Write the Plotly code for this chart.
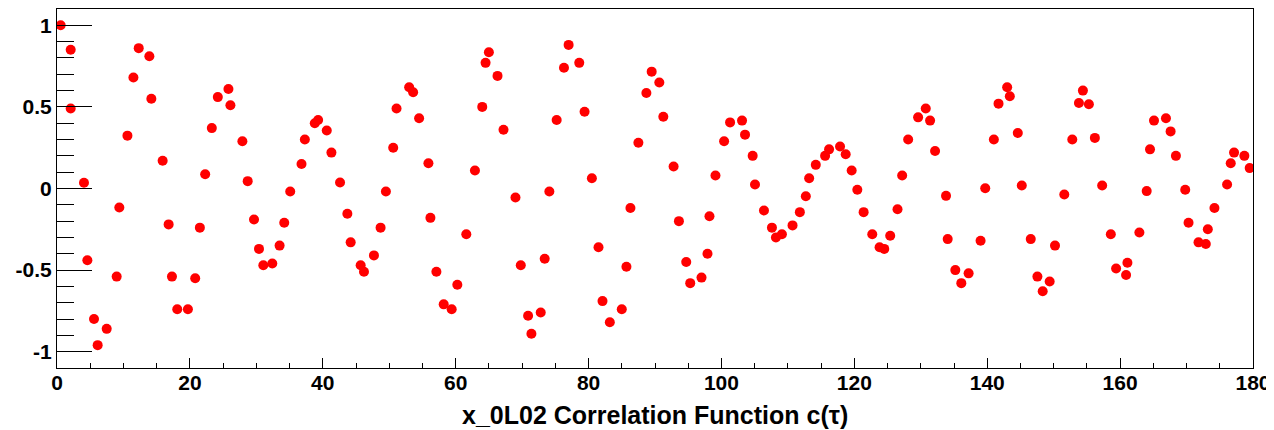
import plotly.graph_objects as go

tau = [0.55, 2.06, 2.06, 4.06, 4.57, 5.57, 6.12, 7.48, 8.98, 9.38,
       10.6, 11.5, 12.3, 13.9, 14.2, 15.9, 16.8, 17.3, 18.1, 19.7,
       20.8, 21.5, 22.3, 23.3, 24.2, 25.8, 26.1, 27.9, 28.7, 29.65,
       30.4, 31.05, 32.4, 33.5, 34.2, 35.1, 36.8, 37.3, 38.8, 39.3,
       40.6, 41.3, 42.6, 43.7, 44.2, 45.7, 46.2, 47.7, 48.7, 49.5,
       50.6, 51.1, 53.0, 53.6, 54.5, 55.9, 56.2, 57.1, 58.2, 59.4,
       60.25, 61.6, 62.9, 64.0, 64.5, 65.0, 66.3, 67.2, 69.0, 69.8,
       70.9, 71.4, 72.8, 73.4, 74.1, 75.2, 76.3, 77.0, 78.6, 79.4,
       80.5, 81.5, 82.1, 83.2, 85.0, 85.7, 86.3, 87.5, 88.7, 89.5,
       90.65, 91.25, 92.8, 93.6, 94.7, 95.3, 97.0, 97.9, 98.2, 99.1,
       100.4, 101.3, 103.1, 103.55, 104.7, 105.05, 106.4, 107.6, 108.2, 109.1,
       110.7, 111.8, 112.7, 113.2, 114.2, 115.6, 116.2, 117.85, 118.7, 119.6,
       120.45, 121.4, 122.7, 123.8, 124.5, 125.4, 126.5, 127.2, 128.1, 129.6,
       130.75, 131.4, 132.15, 133.8, 134.05, 135.2, 136.1, 137.2, 139.0, 139.7,
       141.0, 141.7, 143.0, 143.4, 144.6, 145.2, 146.55, 147.55, 148.35, 149.4,
       150.2, 151.6, 152.8, 153.8, 154.4, 155.3, 156.2, 157.3, 158.6, 159.4,
       160.9, 161.1, 162.9, 164.0, 164.5, 165.1, 166.9, 167.6, 168.4, 169.8,
       170.3, 171.8, 172.9, 173.2, 174.2, 176.1, 176.65, 177.15, 178.7, 179.5]

corr = [1.00, 0.85, 0.49, 0.035, -0.44, -0.80, -0.96, -0.86, -0.54, -0.116,
        0.324, 0.68, 0.86, 0.81, 0.55, 0.17, -0.22, -0.54, -0.74, -0.74,
        -0.55, -0.24, 0.087, 0.37, 0.56, 0.61, 0.51, 0.29, 0.045, -0.19,
        -0.37, -0.47, -0.46, -0.35, -0.21, -0.018, 0.15, 0.30, 0.40, 0.42,
        0.355, 0.22, 0.037, -0.155, -0.33, -0.47, -0.51, -0.41, -0.24, -0.018,
        0.25, 0.49, 0.62, 0.59, 0.43, 0.155, -0.18, -0.51, -0.71, -0.74,
        -0.59, -0.28, 0.11, 0.50, 0.77, 0.835, 0.69, 0.36, -0.055, -0.47,
        -0.78, -0.89, -0.76, -0.43, -0.018, 0.42, 0.74, 0.88, 0.77, 0.47,
        0.063, -0.36, -0.69, -0.82, -0.74, -0.48, -0.12, 0.28, 0.585, 0.716,
        0.65, 0.44, 0.135, -0.20, -0.45, -0.58, -0.546, -0.40, -0.17, 0.08,
        0.29, 0.405, 0.416, 0.33, 0.20, 0.024, -0.135, -0.24, -0.30, -0.28,
        -0.226, -0.145, -0.047, 0.063, 0.145, 0.20, 0.24, 0.257, 0.21, 0.11,
        -0.008, -0.145, -0.28, -0.36, -0.37, -0.29, -0.127, 0.08, 0.30, 0.436,
        0.49, 0.416, 0.23, -0.045, -0.31, -0.50, -0.58, -0.52, -0.32, 0.002,
        0.30, 0.52, 0.62, 0.565, 0.34, 0.018, -0.31, -0.54, -0.63, -0.57,
        -0.35, -0.037, 0.30, 0.524, 0.60, 0.516, 0.31, 0.018, -0.28, -0.49,
        -0.53, -0.455, -0.27, -0.016, 0.24, 0.416, 0.43, 0.35, 0.20, -0.008,
        -0.21, -0.33, -0.34, -0.25, -0.12, 0.024, 0.155, 0.22, 0.20, 0.125]

x_title = "x_0L02 Correlation Function c(\u03c4)"
x_ticks = [0, 20, 40, 60, 80, 100, 120, 140, 160, 180]
y_ticks = [-1, -0.5, 0, 0.5, 1]
y_ticklabels = ["-1", "-0.5", "0", "0.5", "1"]

FONT = "Liberation Sans, Arial, Helvetica, sans-serif"

fig = go.Figure()
fig.add_trace(go.Scatter(
    x=tau, y=corr, mode="markers",
    marker=dict(color="#ff0000", size=10, symbol="circle", line=dict(width=0)),
    showlegend=False, hoverinfo="x+y",
))

# page body has an 8px default margin, so the figure is sized to fit the window
fig.update_layout(
    width=1266, height=422,
    margin=dict(l=49, r=21, t=1, b=62),
    paper_bgcolor="white", plot_bgcolor="white",
    font=dict(family=FONT, color="black"),
)

fig.update_xaxes(
    range=[0, 180], showgrid=False, zeroline=False, automargin=False,
    showline=True, mirror=True, linecolor="black", linewidth=1,
    ticks="inside", ticklen=10, tickwidth=1, tickcolor="black",
    tickvals=x_ticks, ticktext=[str(v) for v in x_ticks],
    tickfont=dict(family=FONT, size=21, weight="bold"),
    ticklabelstandoff=-4,
    minor=dict(dtick=5, ticks="inside", ticklen=5, tickwidth=1, tickcolor="black", showgrid=False),
)

fig.update_yaxes(
    range=[-1.1, 1.1], showgrid=False, zeroline=False, automargin=False,
    showline=True, mirror=True, linecolor="black", linewidth=1,
    ticks="inside", ticklen=35, tickwidth=1, tickcolor="black",
    tickvals=y_ticks, ticktext=y_ticklabels,
    tickfont=dict(family=FONT, size=21, weight="bold"),
    minor=dict(tick0=0, dtick=0.1, ticks="inside", ticklen=17, tickwidth=1, tickcolor="black", showgrid=False),
)

fig.add_annotation(
    text=x_title, xref="paper", yref="paper", x=0.5, y=0,
    xanchor="center", yanchor="top", yshift=-31, showarrow=False,
    font=dict(family=FONT, size=25, weight="bold", color="black"),
)

fig.write_html("out.html")
